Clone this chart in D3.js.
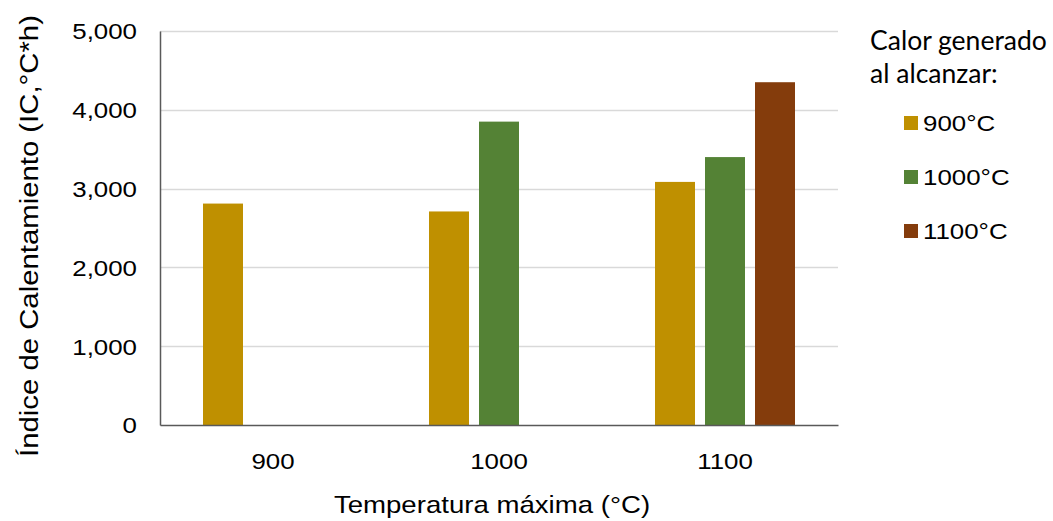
<!DOCTYPE html>
<html><head><meta charset="utf-8">
<script src="https://cdn.jsdelivr.net/npm/d3@7"></script>
<style>body{margin:0;background:#fff}svg{display:block}</style>
</head><body>
<script>
const categories = ["900", "1000", "1100"];
const seriesNames = ["900°C", "1000°C", "1100°C"];
const seriesColors = ["#BF9000", "#548235", "#843C0C"];
// values per series, aligned with categories (null = no bar)
const s900 = [2810, 2710, 3085];
const s1000 = [null, 3850, 3400];
const s1100 = [null, null, 4350];
const yTicks = [0, 1000, 2000, 3000, 4000, 5000];
const xTitle = "Temperatura máxima (°C)";
const yTitle = "Índice de Calentamiento (IC,°C*h)";
const legendTitle = ["Calor generado", "al alcanzar:"];

const W = 1053, H = 521;
const svg = d3.select("body").append("svg").attr("width", W).attr("height", H);
const STR = 1.15; // horizontal stretch of original text

const x0 = d3.scaleBand().domain(categories).range([160, 838]).paddingInner(0).paddingOuter(0);
const x1 = d3.scaleBand().domain(seriesNames).range([0, x0.bandwidth()]).paddingInner(0.2).paddingOuter(0.86);
const y = d3.scaleLinear().domain([0, 5000]).range([425, 31]);

// gridlines
svg.append("g").selectAll("line").data(yTicks.filter(d => d > 0)).join("line")
  .attr("x1", 160).attr("x2", 838).attr("y1", d => Math.round(y(d)) + 0.5).attr("y2", d => Math.round(y(d)) + 0.5)
  .attr("stroke", "#d9d9d9").attr("stroke-width", 1.3);

// bars
const seriesData = [s900, s1000, s1100];
const bars = [];
seriesData.forEach((arr, si) => arr.forEach((v, ci) => { if (v != null) bars.push({c: categories[ci], s: seriesNames[si], v, color: seriesColors[si]}); }));
svg.append("g").selectAll("rect").data(bars).join("rect")
  .attr("x", d => x0(d.c) + x1(d.s)).attr("width", x1.bandwidth())
  .attr("y", d => y(d.v)).attr("height", d => y(0) - y(d.v))
  .attr("fill", d => d.color);

// axes
const yAxis = d3.axisLeft(y).tickValues(yTicks).tickSize(0).tickPadding(23).tickFormat(d3.format(","));
const gy = svg.append("g").attr("transform", "translate(160,0)").call(yAxis);
gy.select(".domain").attr("stroke", "#595959").attr("stroke-width", 1.5);
gy.selectAll(".tick text").attr("font-family", "Liberation Sans, Arial, sans-serif").attr("font-size", 22.5).attr("fill", "#000")
  .attr("dy", "0.35em")
  .each(function(){
    const el = d3.select(this); const xx = +el.attr("x");
    el.attr("transform", `translate(${xx},0) scale(${STR},1) translate(${-xx},0)`);
  });

const xAxis = d3.axisBottom(x0).tickSize(0).tickPadding(28);
const gx = svg.append("g").attr("transform", "translate(0,425)").call(xAxis);
gx.select(".domain").attr("stroke", "#595959").attr("stroke-width", 1.5);
gx.selectAll(".tick text").attr("font-family", "Liberation Sans, Arial, sans-serif").attr("font-size", 22.5).attr("fill", "#000")
  .attr("transform", `scale(${STR},1)`).attr("x", 0);

// titles
svg.append("text").attr("transform", `translate(492,513) scale(${STR},1)`).attr("text-anchor", "middle")
  .attr("font-family", "Liberation Sans, Arial, sans-serif").attr("font-size", 24).attr("fill", "#000").text(xTitle);
svg.append("text").attr("transform", `translate(38,236) rotate(-90) scale(${STR},1)`).attr("text-anchor", "middle")
  .attr("font-family", "Liberation Sans, Arial, sans-serif").attr("font-size", 25.5).attr("fill", "#000").text(yTitle);

// legend
const lg = svg.append("g");
legendTitle.forEach((t, i) => lg.append("text").attr("transform", `translate(870,${50 + i * 33}) scale(1.02,1)`)
  .attr("font-family", "Lato, Open Sans, sans-serif").attr("font-size", 26).attr("fill", "#000").text(t));
seriesNames.forEach((n, i) => {
  const yy = 116 + i * 54;
  lg.append("rect").attr("x", 904).attr("y", yy).attr("width", 14).attr("height", 14).attr("fill", seriesColors[i]);
  lg.append("text").attr("transform", `translate(923,${yy + 15}) scale(${STR},1)`)
    .attr("font-family", "Liberation Sans, Arial, sans-serif").attr("font-size", 22.5).attr("fill", "#000").text(n);
});
</script>
</body></html>
